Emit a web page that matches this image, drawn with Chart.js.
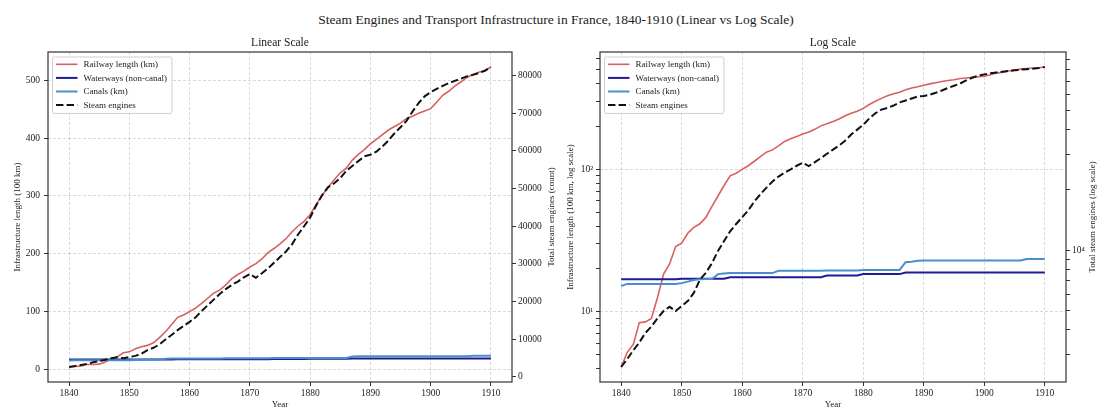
<!DOCTYPE html>
<html>
<head>
<meta charset="utf-8">
<script src="https://cdn.jsdelivr.net/npm/chart.js@4.4.1/dist/chart.umd.min.js"></script>
<style>
    html, body { margin: 0; padding: 0; background: #fff; overflow: hidden; width: 1098px; height: 413px; }
    #title { position: absolute; left: 0; top: 12px; width: 1112px; line-height: 16px; text-align: center;
             font: 13.5px "Liberation Serif", serif; color: #222; }
    .panel { position: absolute; top: 0; height: 413px; }
    #left { left: 0; width: 560px; }
    #right { left: 550px; width: 566px; }
</style>
</head>
<body>
<div id="title">Steam Engines and Transport Infrastructure in France, 1840-1910 (Linear vs Log Scale)</div>
<div class="panel" id="left"><canvas id="linChart" width="560" height="413"></canvas></div>
<div class="panel" id="right"><canvas id="logChart" width="566" height="413"></canvas></div>
<script>
// --- data (infrastructure in 100 km, steam engines as counts)
const years = [1840, 1841, 1842, 1843, 1844, 1845, 1846, 1847, 1848, 1849,
    1850, 1851, 1852, 1853, 1854, 1855, 1856, 1857, 1858, 1859,
    1860, 1861, 1862, 1863, 1864, 1865, 1866, 1867, 1868, 1869,
    1870, 1871, 1872, 1873, 1874, 1875, 1876, 1877, 1878, 1879,
    1880, 1881, 1882, 1883, 1884, 1885, 1886, 1887, 1888, 1889,
    1890, 1891, 1892, 1893, 1894, 1895, 1896, 1897, 1898, 1899,
    1900, 1901, 1902, 1903, 1904, 1905, 1906, 1907, 1908, 1909, 1910];

const railway = [4.1, 5.2, 5.9, 8.4, 8.5, 9.0, 12.6, 18.4, 21.7, 28.7,
    30.3, 35.6, 39.2, 41.5, 46, 55, 65, 77, 90, 94,
    100, 106, 114, 123, 132, 137, 146, 157, 164, 170,
    177, 183, 191, 202, 209, 217, 226, 238, 248, 256,
    268, 285, 301, 315, 328, 340, 348, 362, 372, 380,
    390, 398, 406, 414, 420, 426, 434, 438, 443, 447,
    451, 462, 474, 481, 490, 497, 505, 510, 514, 517, 523];

const waterways = [16.9, 16.9, 16.9, 16.9, 16.9, 16.9, 16.9, 16.9, 16.9, 16.9,
    17.1, 17.1, 17.1, 17.1, 17.1, 17.1, 17.1, 17.1, 17.5, 17.5,
    17.5, 17.5, 17.5, 17.5, 17.5, 17.5, 17.5, 17.5, 17.5, 17.5,
    17.5, 17.5, 17.5, 17.5, 18.0, 18.0, 18.0, 18.0, 18.0, 18.0,
    18.4, 18.4, 18.4, 18.4, 18.4, 18.4, 18.4, 18.9, 18.9, 18.9,
    18.9, 18.9, 18.9, 18.9, 18.9, 18.9, 18.9, 18.9, 18.9, 18.9,
    18.9, 18.9, 18.9, 18.9, 18.9, 18.9, 18.9, 18.9, 18.9, 18.9, 18.9];

const canals = [15.2, 15.7, 15.7, 15.7, 15.7, 15.7, 15.7, 15.7, 15.7, 15.7,
    15.9, 16.3, 16.7, 16.9, 17.0, 17.0, 18.4, 18.6, 18.7, 18.7,
    18.7, 18.7, 18.7, 18.7, 18.7, 18.7, 19.4, 19.4, 19.4, 19.4,
    19.4, 19.4, 19.4, 19.4, 19.5, 19.5, 19.5, 19.5, 19.5, 19.5,
    19.7, 19.7, 19.7, 19.7, 19.7, 19.7, 19.7, 22.3, 22.5, 22.8,
    22.9, 22.9, 22.9, 22.9, 22.9, 22.9, 22.9, 22.9, 22.9, 22.9,
    22.9, 22.9, 22.9, 22.9, 22.9, 22.9, 22.9, 23.5, 23.5, 23.5, 23.5];

const steam = [2600, 2850, 3150, 3450, 3850, 4150, 4550, 4950, 5200, 4950,
    5250, 5550, 6100, 7100, 7700, 8600, 9900, 11100, 12400, 13500,
    14600, 15800, 17500, 19000, 20500, 22000, 23300, 24400, 25300, 26400,
    27300, 26300, 27500, 28800, 30300, 31800, 33300, 35200, 37800, 40000,
    42300, 45500, 48300, 50400, 51400, 52800, 54700, 56000, 57300, 58600,
    59000, 59800, 61200, 62800, 64700, 66300, 68000, 70500, 72700, 74500,
    75600, 76500, 77300, 78000, 78600, 79200, 79800, 80200, 80700, 81300, 82300];

const yearTicks = [1840, 1850, 1860, 1870, 1880, 1890, 1900, 1910];
const infraLinTicks = [0, 100, 200, 300, 400, 500];
const steamLinTicks = [0, 10000, 20000, 30000, 40000, 50000, 60000, 70000, 80000];
const infraLogTicks = [4, 5, 6, 7, 8, 9, 10, 20, 30, 40, 50, 60, 70, 80, 90, 100, 200, 300, 400, 500, 600];
const steamLogTicks = [3000, 4000, 5000, 6000, 7000, 8000, 9000, 10000, 20000, 30000, 40000, 50000, 60000, 70000, 80000, 90000];
const infraLogLabels = {10: '10\u00B9', 100: '10\u00B2'};
const steamLogLabels = {10000: '10\u2074'};

// --- style
const FONT = "'Liberation Serif', 'DejaVu Serif', serif";
const TEXT = '#222';
const SPINE = '#333';
const GRID = 'rgba(150,150,150,0.45)';
const COLORS = {rail: '#d96060', water: '#1c1c94', canal: '#4a8fc7', steam: '#111'};

// matplotlib-style 5% margins
function linRange(values) {
    const lo = Math.min(...values), hi = Math.max(...values), pad = (hi - lo) * 0.05;
    return [lo - pad, hi + pad];
}
function logRange(values) {
    const lo = Math.log10(Math.min(...values)), hi = Math.log10(Math.max(...values)), pad = (hi - lo) * 0.05;
    return [Math.pow(10, lo - pad), Math.pow(10, hi + pad)];
}
const infraAll = railway.concat(waterways, canals);
const xRange = [years[0] - (years[years.length - 1] - years[0]) * 0.05, years[years.length - 1] + (years[years.length - 1] - years[0]) * 0.05];

const pts = arr => years.map((yr, i) => ({x: yr, y: arr[i]}));

function makeDatasets() {
    return [
        {label: 'Railway length (km)', data: pts(railway), borderColor: COLORS.rail, borderWidth: 1.6, yAxisID: 'y', order: 4},
        {label: 'Waterways (non-canal)', data: pts(waterways), borderColor: COLORS.water, borderWidth: 2, yAxisID: 'y', order: 3},
        {label: 'Canals (km)', data: pts(canals), borderColor: COLORS.canal, borderWidth: 2, yAxisID: 'y', order: 2},
        {label: 'Steam engines', data: pts(steam), borderColor: COLORS.steam, borderWidth: 2, borderDash: [7.4, 3.2], yAxisID: 'y2', order: 1},
    ].map(ds => Object.assign(ds, {pointRadius: 0, tension: 0, fill: false, backgroundColor: ds.borderColor}));
}

const setTicks = list => axis => { axis.ticks = list.map(v => ({value: v})); };

// box around the plot area
const framePlugin = {
    id: 'frame',
    afterDraw(chart) {
        const {ctx, chartArea: a} = chart;
        ctx.save();
        ctx.strokeStyle = SPINE;
        ctx.lineWidth = 1.2;
        ctx.strokeRect(a.left, a.top, a.right - a.left, a.bottom - a.top);
        ctx.restore();
    }
};

// legend in the upper left corner of the plot area, with a frame
const boxLegendPlugin = {
    id: 'boxLegend',
    afterDraw(chart) {
        const {ctx, chartArea: a} = chart;
        const x0 = a.left + 4.5, y0 = a.top + 5, rowH = 13.6;
        ctx.save();
        ctx.font = "9px " + FONT;
        const items = chart.data.datasets;
        const textW = Math.max(...items.map(ds => ctx.measureText(ds.label).width));
        const w = 31 + textW + 5, h = items.length * rowH + 2;
        ctx.fillStyle = 'rgba(255,255,255,0.85)';
        ctx.strokeStyle = '#cfcfcf';
        ctx.lineWidth = 1;
        ctx.beginPath();
        ctx.roundRect(x0, y0, w, h, 2);
        ctx.fill();
        ctx.stroke();
        items.forEach((ds, i) => {
            const y = y0 + 7.3 + i * rowH;
            ctx.strokeStyle = ds.borderColor;
            ctx.lineWidth = ds.borderWidth;
            ctx.setLineDash(ds.borderDash || []);
            ctx.beginPath();
            ctx.moveTo(x0 + 3.5, y);
            ctx.lineTo(x0 + 25, y);
            ctx.stroke();
            ctx.setLineDash([]);
            ctx.fillStyle = TEXT;
            ctx.textBaseline = 'middle';
            ctx.fillText(ds.label, x0 + 31, y + 0.5);
        });
        ctx.restore();
    }
};

// right-hand axis title, reading bottom to top like matplotlib
const rightTitlePlugin = {
    id: 'rightTitle',
    afterDraw(chart, args, opts) {
        const {ctx, chartArea: a} = chart;
        ctx.save();
        ctx.translate(opts.x, (a.top + a.bottom) / 2);
        ctx.rotate(-Math.PI / 2);
        ctx.font = "9px " + FONT;
        ctx.fillStyle = TEXT;
        ctx.textAlign = 'center';
        ctx.textBaseline = 'middle';
        ctx.fillText(opts.text, 0, 0);
        ctx.restore();
    }
};

function tickFont() { return {family: FONT, size: 9.5}; }

function xAxis() {
    return {
        type: 'linear', min: xRange[0], max: xRange[1], bounds: 'data',
        afterBuildTicks: setTicks(yearTicks),
        afterFit: s => { s.height = 31; },
        ticks: {font: tickFont(), color: TEXT, padding: 2, autoSkip: false, maxRotation: 0, callback: v => String(v)},
        grid: {color: GRID, lineWidth: 0.8, tickLength: 4, tickColor: SPINE, tickWidth: 1},
        border: {display: false, dash: [3, 2]},
        title: {display: true, text: 'Year', font: {family: FONT, size: 9}, color: TEXT, padding: {top: 0, bottom: 2.6}}
    };
}

function makeChart(canvasId, opts) {
    return new Chart(document.getElementById(canvasId), {
        type: 'line',
        data: {datasets: makeDatasets()},
        options: {
            responsive: false,
            animation: false,
            layout: {padding: 0},
            scales: {x: xAxis(), y: opts.y, y2: opts.y2},
            plugins: {
                legend: {display: false},
                tooltip: {enabled: false},
                title: {display: true, text: opts.title, color: TEXT, font: {family: FONT, size: 11.5, weight: 'normal', lineHeight: 1.2}, padding: {top: 36.1, bottom: 2.1}},
                rightTitle: {text: opts.rightTitle, x: opts.rightTitleX}
            }
        },
        plugins: [framePlugin, boxLegendPlugin, rightTitlePlugin]
    });
}

// --- linear panel
const infraLin = linRange(infraAll);
const steamLin = linRange(steam);
makeChart('linChart', {
    title: 'Linear Scale',
    rightTitle: 'Total steam engines (count)',
    rightTitleX: 552,
    y: {
        type: 'linear', position: 'left', min: infraLin[0], max: infraLin[1], bounds: 'data',
        afterBuildTicks: setTicks(infraLinTicks),
        afterFit: s => { s.width = 48; },
        ticks: {font: tickFont(), color: TEXT, padding: 4, autoSkip: false, callback: v => String(v)},
        grid: {color: GRID, lineWidth: 0.8, tickLength: 4, tickColor: SPINE, tickWidth: 1},
        border: {display: false, dash: [3, 2]},
        title: {display: true, text: 'Infrastructure length (100 km)', font: {family: FONT, size: 9}, color: TEXT, padding: {top: 12.6, bottom: 0}}
    },
    y2: {
        type: 'linear', position: 'right', min: steamLin[0], max: steamLin[1], bounds: 'data',
        afterBuildTicks: setTicks(steamLinTicks),
        afterFit: s => { s.width = 48; },
        ticks: {font: tickFont(), color: TEXT, padding: 2, autoSkip: false, callback: v => String(v)},
        grid: {drawOnChartArea: false, tickLength: 4, tickColor: SPINE, tickWidth: 1},
        border: {display: false}
    }
});

// --- log panel
const infraLog = logRange(infraAll);
const steamLog = logRange(steam);
makeChart('logChart', {
    title: 'Log Scale',
    rightTitle: 'Total steam engines (log scale)',
    rightTitleX: 543,
    y: {
        type: 'logarithmic', position: 'left', min: infraLog[0], max: infraLog[1], bounds: 'data',
        afterBuildTicks: setTicks(infraLogTicks),
        afterFit: s => { s.width = 50; },
        ticks: {font: tickFont(), color: TEXT, padding: 3, autoSkip: false, callback: v => infraLogLabels[v] || ''},
        grid: {
            color: c => (c.tick && infraLogLabels[c.tick.value]) ? GRID : 'rgba(0,0,0,0)',
            lineWidth: 0.8, tickLength: 4, tickColor: SPINE, tickWidth: 1
        },
        border: {display: false, dash: [3, 2]},
        title: {display: true, text: 'Infrastructure length (100 km, log scale)', font: {family: FONT, size: 9}, color: TEXT, padding: {top: 15.3, bottom: 0}}
    },
    y2: {
        type: 'logarithmic', position: 'right', min: steamLog[0], max: steamLog[1], bounds: 'data',
        afterBuildTicks: setTicks(steamLogTicks),
        afterFit: s => { s.width = 50; },
        ticks: {font: tickFont(), color: TEXT, padding: 2, autoSkip: false, callback: v => steamLogLabels[v] || ''},
        grid: {drawOnChartArea: false, tickLength: 4, tickColor: SPINE, tickWidth: 1},
        border: {display: false}
    }
});
</script>
</body>
</html>
